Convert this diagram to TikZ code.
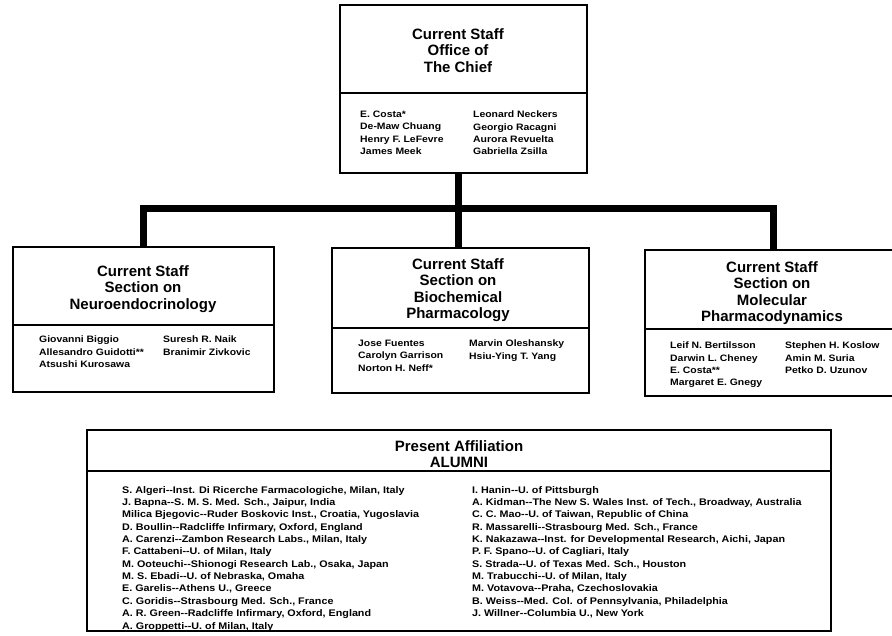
\documentclass[tikz,border=0pt]{standalone}
\usepackage{fontspec}
\setmainfont{Liberation Sans}
\newfontfamily\smallsans[FakeStretch=1.12]{Liberation Sans}
\newcommand{\dbl}{-{}-}
\tikzset{
  box/.style={draw,line width=1.8pt,inner sep=0pt,outer sep=0pt,anchor=north west},
  bus/.style={line width=7pt},
  sep/.style={line width=1.8pt},
  head/.style={font=\fontsize{15}{16.5}\selectfont\bfseries,align=center,anchor=north,inner sep=0pt},
  staff/.style={font=\smallsans\fontsize{9.3}{12.3}\selectfont\bfseries,align=left,anchor=north west,inner sep=0pt},
  alum/.style={font=\smallsans\fontsize{9.6}{12.35}\selectfont\bfseries,align=left,anchor=north west,inner sep=0pt}
}
\begin{document}
\begin{tikzpicture}[x=1pt,y=-1pt]
\clip(0,0)rectangle(892,636);
%boxes
\node[box,minimum width=247pt,minimum height=168pt](chief)at(340,5){};
\node[box,minimum width=261pt,minimum height=145pt](neuro)at(13,247){};
\node[box,minimum width=257pt,minimum height=145pt](biochem)at(332,248){};
\node[box,minimum width=256pt,minimum height=146pt](molec)at(645,250){};
\node[box,minimum width=744pt,minimum height=201pt](alumni)at(87,430){};
\foreach \b/\y in {chief/93,neuro/325,biochem/328,molec/329,alumni/471}{\draw[sep](\b.west|-0,\y)--(\b.east|-0,\y);}
%connectors
\coordinate(hub)at(458.5,209);
\draw[bus](hub|-chief.south)--(hub|-biochem.north);
\draw[bus](neuro.north)--(neuro.north|-hub)--(molec.north|-hub)--(molec.north);
%titles
\node[head](chieft)at(458,28){Current Staff\\Office of\\The Chief};
\node[head](neurot)at(143,265){Current Staff\\Section on\\Neuroendocrinology};
\node[head](biochemt)at(458,258){Current Staff\\Section on\\Biochemical\\Pharmacology};
\node[head](molect)at(772,261){Current Staff\\Section on\\Molecular\\Pharmacodynamics};
\node[head](alumnit)at(459,440){Present Affiliation\\ALUMNI};
%staff
\node[staff](chiefa)at(360,111){E. Costa*\\De-Maw Chuang\\Henry F. LeFevre\\James Meek};
\node[staff](chiefb)at(473,111){Leonard Neckers\\Georgio Racagni\\Aurora Revuelta\\Gabriella Zsilla};
\node[staff](neuroa)at(39,336){Giovanni Biggio\\Allesandro Guidotti**\\Atsushi Kurosawa};
\node[staff](neurob)at(163,336){Suresh R. Naik\\Branimir Zivkovic};
\node[staff](biochema)at(358,340){Jose Fuentes\\Carolyn Garrison\\Norton H. Neff*};
\node[staff](biochemb)at(469,340){Marvin Oleshansky\\Hsiu-Ying T. Yang};
\node[staff](moleca)at(670,342){Leif N. Bertilsson\\Darwin L. Cheney\\E. Costa**\\Margaret E. Gnegy};
\node[staff](molecb)at(785,342){Stephen H. Koslow\\Amin M. Suria\\Petko D. Uzunov};
%alumni
\node[alum](alumnia)at(122,486){S. Algeri\dbl Inst. Di Ricerche Farmacologiche, Milan, Italy\\
J. Bapna\dbl S. M. S. Med. Sch., Jaipur, India\\
Milica Bjegovic\dbl Ruder Boskovic Inst., Croatia, Yugoslavia\\
D. Boullin\dbl Radcliffe Infirmary, Oxford, England\\
A. Carenzi\dbl Zambon Research Labs., Milan, Italy\\
F. Cattabeni\dbl U. of Milan, Italy\\
M. Ooteuchi\dbl Shionogi Research Lab., Osaka, Japan\\
M. S. Ebadi\dbl U. of Nebraska, Omaha\\
E. Garelis\dbl Athens U., Greece\\
C. Goridis\dbl Strasbourg Med. Sch., France\\
A. R. Green\dbl Radcliffe Infirmary, Oxford, England\\
A. Groppetti\dbl U. of Milan, Italy};
\node[alum](alumnib)at(472,486){I. Hanin\dbl U. of Pittsburgh\\
A. Kidman\dbl The New S. Wales Inst. of Tech., Broadway, Australia\\
C. C. Mao\dbl U. of Taiwan, Republic of China\\
R. Massarelli\dbl Strasbourg Med. Sch., France\\
K. Nakazawa\dbl Inst. for Developmental Research, Aichi, Japan\\
P. F. Spano\dbl U. of Cagliari, Italy\\
S. Strada\dbl U. of Texas Med. Sch., Houston\\
M. Trabucchi\dbl U. of Milan, Italy\\
M. Votavova\dbl Praha, Czechoslovakia\\
B. Weiss\dbl Med. Col. of Pennsylvania, Philadelphia\\
J. Willner\dbl Columbia U., New York};
\end{tikzpicture}
\end{document}
